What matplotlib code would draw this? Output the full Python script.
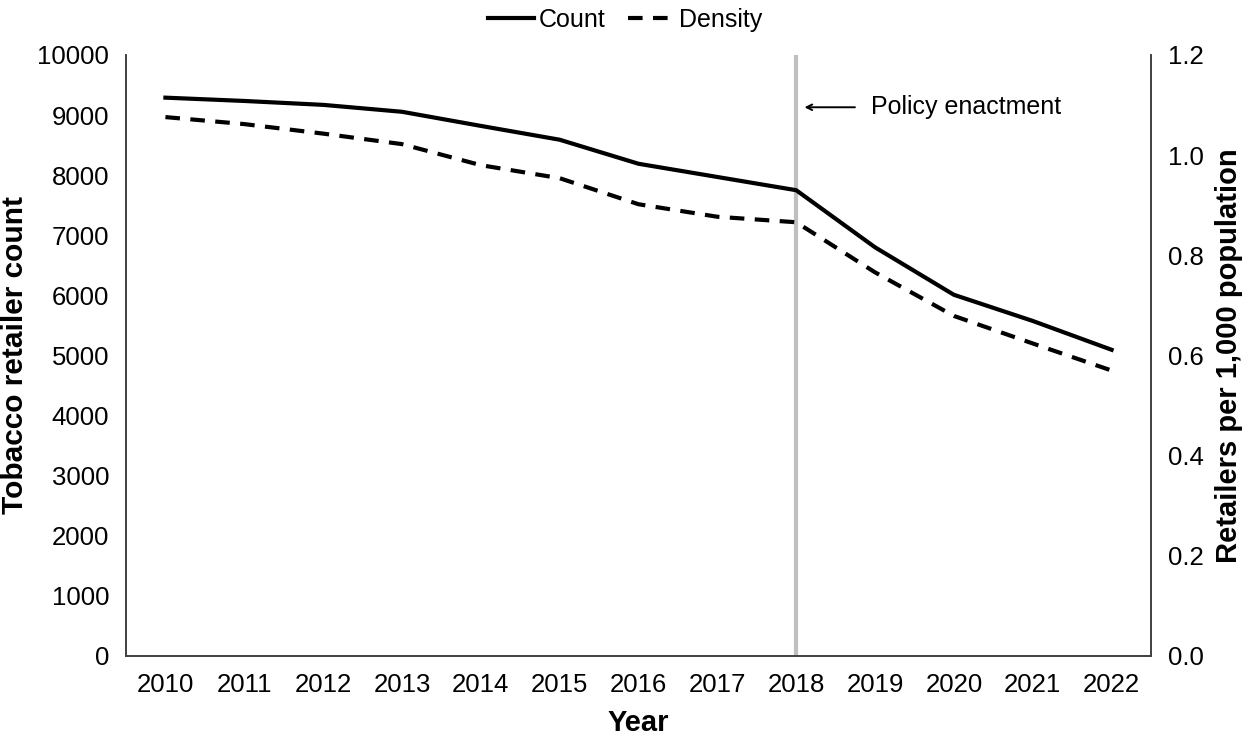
import matplotlib
matplotlib.use('Agg')
import matplotlib.pyplot as plt
import numpy as np

plt.rcParams['font.family'] = ['Liberation Sans', 'DejaVu Sans']

# data
years = ['2010', '2011', '2012', '2013', '2014', '2015', '2016',
         '2017', '2018', '2019', '2020', '2021', '2022']
count = [9290, 9235, 9170, 9055, 8820, 8590, 8190, 7970, 7750,
         6800, 6010, 5575, 5095]
density = [1.076, 1.062, 1.043, 1.022, 0.980, 0.954, 0.902, 0.877, 0.866,
           0.766, 0.679, 0.624, 0.570]
policy_year = 8  # index of 2018

fig = plt.figure(figsize=(12.5, 7.36), dpi=100)
ax = fig.add_axes([0.1008, 0.1087, 0.82, 0.8166])
ax2 = ax.twinx()

x = np.arange(len(years))
l1, = ax.plot(x, count, color='black', lw=3, label='Count')
l2, = ax2.plot(x, density, color='black', lw=3, ls=(0, (3.5, 2.5)), label='Density')
ax.axvline(policy_year, color='#bfbfbf', lw=3, zorder=0)

ax.set_xlim(-0.5, len(years) - 0.5)
ax.set_ylim(0, 10000)
ax.set_yticks(range(0, 10001, 1000))
ax2.set_ylim(0, 1.2)
ax2.set_yticks(np.arange(0, 1.21, 0.2))
ax2.set_yticklabels(['%.1f' % v for v in np.arange(0, 1.21, 0.2)])
ax.set_xticks(x)
ax.set_xticklabels(years)

for a in (ax, ax2):
    a.tick_params(length=0, labelsize=18.5, pad=12)
    a.spines['top'].set_visible(False)
    for s in ('left', 'right', 'bottom'):
        a.spines[s].set_color('#404040')
        a.spines[s].set_linewidth(1.2)

ax.set_xlabel('Year', fontsize=21, fontweight='bold', labelpad=9)
ax.set_ylabel('Tobacco retailer count', fontsize=21.5, fontweight='bold', labelpad=6)
ax2.set_ylabel('Retailers per 1,000 population', fontsize=21, fontweight='bold', labelpad=8)

ax.annotate('', xy=(policy_year + 0.07, 9130), xytext=(policy_year + 0.78, 9130),
            arrowprops=dict(arrowstyle='->', color='black', lw=1.4))
ax.text(policy_year + 0.95, 9130, 'Policy enactment', fontsize=18, va='center')

fig.legend(handles=[l1, l2], loc='upper center', bbox_to_anchor=(0.5, 1.02),
           ncol=2, frameon=False, fontsize=18, handlelength=1.85,
           handletextpad=0.2, columnspacing=0.9)

fig.savefig('out.png', dpi=100)
